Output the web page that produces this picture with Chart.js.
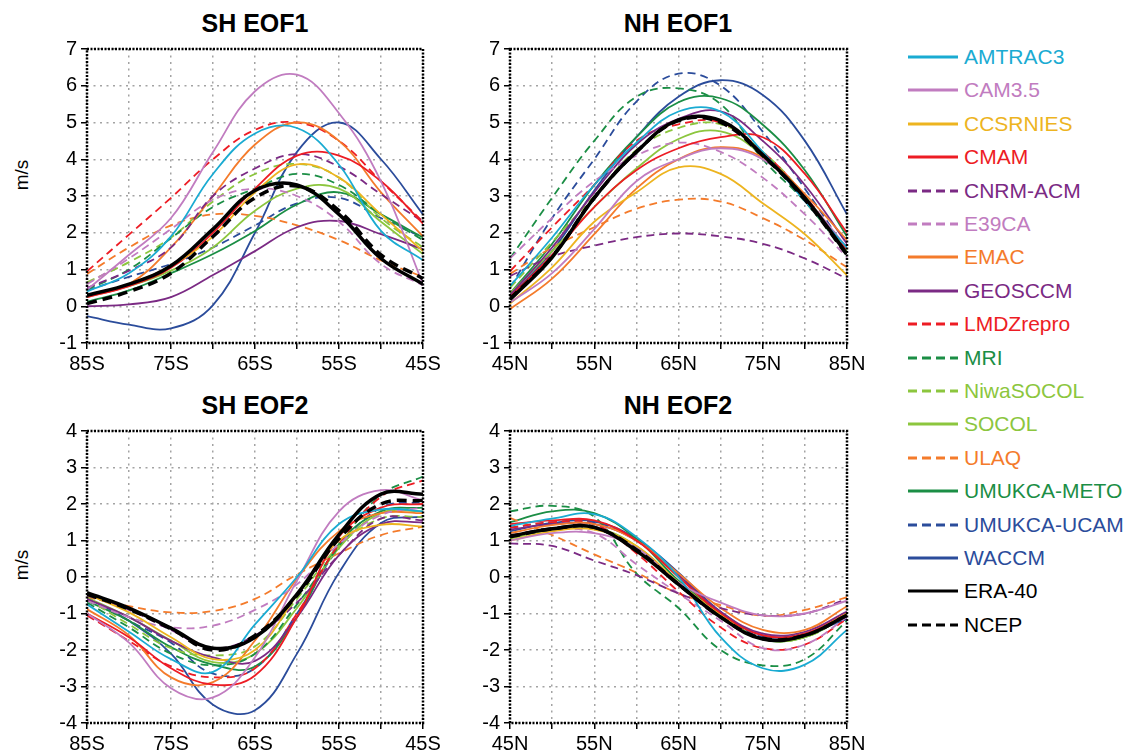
<!DOCTYPE html>
<html>
<head>
<meta charset="utf-8">
<script src="https://cdn.jsdelivr.net/npm/chart.js@4.4.0/dist/chart.umd.min.js"></script>
<style>
body { margin: 0; background: #fff; width: 1135px; height: 756px; position: relative; overflow: hidden; font-family: "Liberation Sans", Arial, sans-serif; }
canvas { position: absolute; }
.ttl { position: absolute; font-weight: bold; font-size: 25px; transform: translate(-50%, -50%); white-space: nowrap; color: #000; }
.ylab { position: absolute; font-size: 19px; transform: translate(-50%, -50%) rotate(-90deg); white-space: nowrap; }
.row { position: absolute; left: 905px; height: 30px; display: flex; align-items: center; white-space: nowrap; font-size: 21px; }
.row svg { margin-left: 3px; margin-right: 6px; }
</style>
</head>
<body>
<div class="ttl" style="left:255px;top:23px">SH EOF1</div>
<div class="ttl" style="left:678px;top:23px">NH EOF1</div>
<div class="ttl" style="left:255px;top:405px">SH EOF2</div>
<div class="ttl" style="left:678px;top:405px">NH EOF2</div>
<div class="ylab" style="left:22px;top:175px">m/s</div>
<div class="ylab" style="left:22px;top:565px">m/s</div>

<canvas id="c1" width="453" height="350" style="left:0px;top:33px"></canvas>
<canvas id="c2" width="417" height="350" style="left:460px;top:33px"></canvas>
<canvas id="c3" width="453" height="348" style="left:0px;top:415px"></canvas>
<canvas id="c4" width="417" height="348" style="left:460px;top:415px"></canvas>
<div id="legend"></div>

<script>
// model names, legend order
var models = ["AMTRAC3", "CAM3.5", "CCSRNIES", "CMAM", "CNRM-ACM", "E39CA", "EMAC", "GEOSCCM",
	"LMDZrepro", "MRI", "NiwaSOCOL", "SOCOL", "ULAQ", "UMUKCA-METO", "UMUKCA-UCAM", "WACCM", "ERA-40", "NCEP"];

var shLat = [-85, -80, -75, -70, -65, -60, -55, -50, -45];
var nhLat = [45, 50, 55, 60, 65, 70, 75, 80, 85];

// rows follow the models list
var shEof1 = [
	[0.4, 0.9, 1.9, 3.6, 4.7, 4.85, 3.85, 2.05, 1.25],
	[0.45, 1.4, 2.4, 4.2, 5.85, 6.3, 5.25, 3.4, 0.6],
	[0.3, 0.6, 1.1, 1.9, 3.1, 3.86, 3.5, 2.5, 1.5],
	[0.25, 0.55, 1.05, 2.0, 3.2, 4.1, 4.1, 3.4, 2.25],
	[0.5, 0.97, 1.6, 3.0, 3.75, 4.14, 3.8, 3.05, 2.3],
	[0.6, 1.3, 2.1, 2.9, 3.2, 3.0, 2.3, 1.15, 0.57],
	[0.25, 0.6, 1.6, 3.0, 4.4, 5.0, 4.5, 3.1, 1.9],
	[0.0, 0.05, 0.25, 0.85, 1.5, 2.15, 2.32, 1.96, 1.55],
	[0.95, 1.95, 2.95, 4.0, 4.8, 5.0, 4.5, 3.4, 2.3],
	[0.45, 1.0, 1.85, 2.7, 3.2, 3.6, 3.3, 2.5, 1.8],
	[0.65, 1.2, 1.87, 2.85, 3.6, 3.87, 3.5, 2.4, 1.6],
	[0.3, 0.55, 0.97, 1.6, 2.6, 3.2, 3.2, 2.3, 1.42],
	[0.88, 1.6, 2.2, 2.5, 2.46, 2.2, 1.8, 1.25, 0.8],
	[0.12, 0.43, 0.9, 1.42, 2.05, 2.77, 3.1, 2.5, 1.87],
	[0.43, 0.8, 1.15, 1.6, 2.2, 2.8, 2.95, 2.4, 1.87],
	[-0.27, -0.5, -0.6, 0.03, 2.0, 4.2, 5.0, 4.0, 2.5],
	[0.3, 0.6, 1.1, 2.1, 3.15, 3.3, 2.5, 1.3, 0.6],
	[0.07, 0.4, 0.9, 1.9, 2.95, 3.27, 2.6, 1.4, 0.75]
];
var nhEof1 = [
	[0.55, 1.87, 3.3, 4.45, 5.3, 5.3, 4.2, 2.86, 1.6],
	[0.1, 0.9, 2.1, 3.4, 4.0, 4.3, 4.0, 2.95, 1.6],
	[0.07, 1.06, 2.3, 3.1, 3.78, 3.6, 2.8, 1.96, 0.84],
	[0.25, 1.4, 2.7, 3.7, 4.3, 4.6, 4.6, 3.6, 2.0],
	[0.82, 1.35, 1.65, 1.88, 1.98, 1.9, 1.7, 1.3, 0.75],
	[1.3, 2.4, 3.4, 4.1, 4.45, 4.2, 3.5, 2.5, 1.33],
	[-0.08, 0.75, 1.96, 3.2, 4.0, 4.33, 4.05, 3.05, 1.8],
	[0.3, 1.6, 3.1, 4.4, 5.1, 5.3, 4.5, 3.3, 1.7],
	[0.95, 2.15, 3.3, 4.5, 4.95, 5.0, 4.2, 3.0, 1.5],
	[1.3, 2.95, 4.5, 5.7, 5.93, 5.5, 4.0, 2.85, 1.4],
	[0.5, 1.75, 3.0, 4.25, 4.85, 4.95, 4.2, 3.0, 1.45],
	[0.35, 1.5, 2.7, 3.75, 4.55, 4.76, 4.1, 2.95, 1.5],
	[0.88, 1.6, 2.15, 2.65, 2.9, 2.85, 2.4, 1.8, 1.06],
	[0.35, 1.7, 3.3, 4.6, 5.55, 5.66, 4.94, 3.7, 1.9],
	[0.5, 2.4, 4.0, 5.57, 6.33, 6.0, 4.75, 3.2, 1.5],
	[0.25, 1.5, 3.15, 4.6, 5.7, 6.15, 5.75, 4.5, 2.5],
	[0.18, 1.33, 2.95, 4.2, 5.07, 5.05, 4.12, 2.95, 1.42],
	[0.2, 1.35, 2.95, 4.2, 5.05, 5.0, 4.1, 2.9, 1.4]
];
var shEof2 = [
	[-0.75, -1.5, -2.25, -2.6, -1.3, 0.0, 1.45, 1.85, 1.8],
	[-1.0, -1.8, -3.05, -3.3, -2.2, -0.1, 1.8, 2.38, 2.1],
	[-0.47, -0.97, -1.65, -2.25, -2.0, -0.5, 1.0, 1.43, 1.38],
	[-1.0, -1.65, -2.5, -2.95, -2.7, -1.1, 1.1, 1.9, 2.0],
	[-0.5, -0.9, -1.45, -1.95, -1.6, -0.7, 0.6, 1.6, 1.55],
	[-0.65, -1.1, -1.38, -1.33, -0.9, -0.2, 0.9, 1.7, 1.9],
	[-0.88, -1.6, -2.75, -2.88, -1.74, -0.05, 1.25, 1.75, 1.75],
	[-0.6, -1.1, -1.75, -2.2, -2.3, -1.1, 0.6, 1.45, 1.5],
	[-1.05, -1.75, -2.45, -2.75, -2.5, -1.0, 0.9, 2.2, 2.65],
	[-0.7, -1.38, -2.1, -2.42, -2.1, -0.75, 0.85, 2.25, 2.75],
	[-0.6, -1.3, -1.95, -2.15, -1.9, -0.6, 0.85, 1.6, 1.65],
	[-0.56, -1.1, -1.74, -2.33, -2.1, -0.85, 0.8, 1.75, 1.8],
	[-0.55, -0.8, -0.97, -0.93, -0.6, 0.07, 0.65, 1.15, 1.38],
	[-0.65, -1.2, -1.92, -2.4, -2.45, -1.1, 0.9, 1.8, 1.9],
	[-0.6, -1.2, -1.8, -2.65, -2.5, -1.0, 0.8, 1.9, 2.05],
	[-0.56, -1.2, -2.1, -3.5, -3.65, -2.1, 0.12, 1.48, 1.66],
	[-0.43, -0.85, -1.4, -1.95, -1.65, -0.47, 1.16, 2.27, 2.27],
	[-0.47, -0.88, -1.42, -2.0, -1.6, -0.5, 1.05, 2.0, 2.1]
];
var nhEof2 = [
	[1.4, 1.6, 1.72, 1.1, 0.0, -1.65, -2.5, -2.4, -1.45],
	[1.0, 1.2, 1.2, 0.8, -0.15, -0.7, -1.05, -1.0, -0.65],
	[1.0, 1.25, 1.3, 0.85, -0.15, -1.05, -1.7, -1.6, -1.0],
	[1.45, 1.55, 1.55, 1.0, 0.0, -1.0, -1.6, -1.55, -1.0],
	[0.92, 0.85, 0.45, 0.05, -0.45, -0.85, -1.05, -1.0, -0.6],
	[1.15, 1.3, 1.2, 0.35, -0.45, -1.2, -1.95, -1.85, -1.1],
	[1.2, 1.42, 1.45, 1.0, 0.1, -0.85, -1.45, -1.45, -0.8],
	[1.3, 1.45, 1.45, 1.0, 0.05, -0.95, -1.55, -1.5, -0.95],
	[1.35, 1.5, 1.45, 0.65, -0.4, -1.38, -1.95, -1.85, -1.15],
	[1.8, 1.95, 1.65, 0.1, -0.85, -2.0, -2.42, -2.25, -1.2],
	[1.1, 1.3, 1.35, 0.8, -0.15, -1.05, -1.7, -1.65, -1.05],
	[1.05, 1.3, 1.35, 0.85, -0.15, -1.05, -1.7, -1.65, -1.0],
	[1.62, 1.15, 0.62, 0.12, -0.45, -0.77, -1.06, -0.9, -0.55],
	[1.5, 1.8, 1.75, 1.05, -0.1, -1.0, -1.7, -1.65, -1.05],
	[1.35, 1.5, 1.5, 1.0, 0.05, -1.0, -1.65, -1.6, -1.1],
	[1.25, 1.48, 1.52, 1.05, 0.12, -0.95, -1.6, -1.55, -1.15],
	[1.12, 1.32, 1.36, 0.72, -0.2, -1.1, -1.7, -1.6, -1.05],
	[1.1, 1.32, 1.36, 0.75, -0.2, -1.1, -1.68, -1.6, -1.05]
];

// styles
var colors = ["#1aabd2", "#c17cc0", "#edb41f", "#ed1c24", "#7b2a84", "#c17cc0", "#f47b2b", "#7b2a84",
	"#ed1c24", "#1b8e45", "#8cc63e", "#8cc63e", "#f47b2b", "#1b8e45", "#2b4c9b", "#2b4c9b", "#000000", "#000000"];
var dashed = [false, false, false, false, true, true, false, false,
	true, true, true, false, true, false, true, false, false, true];

var FONT = "'Liberation Sans', Arial, sans-serif";

// dotted black frame round the plot area
var frame = {
	id: 'frame',
	afterDraw(chart) {
		var a = chart.chartArea, c = chart.ctx;
		c.save();
		c.strokeStyle = '#000';
		c.lineWidth = 2.5;
		c.setLineDash([2, 1.5]);
		c.strokeRect(a.left, a.top, a.right - a.left, a.bottom - a.top);
		c.restore();
	}
};

function makeChart(id, lat, vals, ymin, ymax, yw, sh) {
	var datasets = models.map(function(m, i) {
		var obs = i >= 16;
		return {
			label: m,
			data: lat.map(function(x, j) { return {x: x, y: vals[i][j]}; }),
			borderColor: colors[i],
			borderWidth: obs ? 3.5 : 1.8,
			borderDash: dashed[i] ? (obs ? [10, 6] : [8, 5]) : [],
			pointRadius: 0,
			tension: 0.4,
			fill: false,
			order: obs ? 0 : 1
		};
	});
	return new Chart(document.getElementById(id), {
		type: 'line',
		data: {datasets: datasets},
		options: {
			responsive: false,
			animation: false,
			devicePixelRatio: 1,
			layout: {padding: {top: 14, right: 30, left: 0, bottom: 0}},
			plugins: {legend: {display: false}, tooltip: {enabled: false}},
			scales: {
				x: {
					type: 'linear', min: lat[0], max: lat[lat.length - 1],
					afterFit: function(s) { s.height = 40; },
					border: {display: false, dash: [2, 4.5]},
					grid: {color: '#a3a3a3', lineWidth: 1.5, tickColor: '#000', tickLength: 6, tickWidth: 1.5},
					ticks: {
						stepSize: 5, autoSkip: false, maxRotation: 0, padding: 3, color: '#000',
						font: {family: FONT, size: 20},
						callback: function(v) {
							var a = Math.abs(v);
							if (a % 10 !== 5) return '';
							return a + (sh ? 'S' : 'N');
						}
					}
				},
				y: {
					min: ymin, max: ymax,
					afterFit: function(s) { s.width = yw; },
					border: {display: false, dash: [2, 4.5]},
					grid: {color: '#a3a3a3', lineWidth: 1.5, tickColor: '#000', tickLength: 6, tickWidth: 1.5},
					ticks: {stepSize: 1, padding: 4, color: '#000', font: {family: FONT, size: 20}}
				}
			}
		},
		plugins: [frame]
	});
}

makeChart('c1', shLat, shEof1, -1, 7, 87, true);
makeChart('c2', nhLat, nhEof1, -1, 7, 50, false);
makeChart('c3', shLat, shEof2, -4, 4, 87, true);
makeChart('c4', nhLat, nhEof2, -4, 4, 50, false);

// legend
var leg = document.getElementById('legend');
models.forEach(function(m, i) {
	var row = document.createElement('div');
	row.className = 'row';
	row.style.top = (57 + i * 33.4 - 15) + 'px';
	var w = i >= 16 ? 3 : 3;
	var dash = dashed[i] ? 'stroke-dasharray="9,5"' : '';
	row.innerHTML = '<svg width="50" height="6"><line x1="0" y1="3" x2="50" y2="3" stroke="' + colors[i] +
		'" stroke-width="' + w + '" ' + dash + '/></svg><span style="color:' + colors[i] + '">' + m + '</span>';
	leg.appendChild(row);
});
</script>
</body>
</html>
